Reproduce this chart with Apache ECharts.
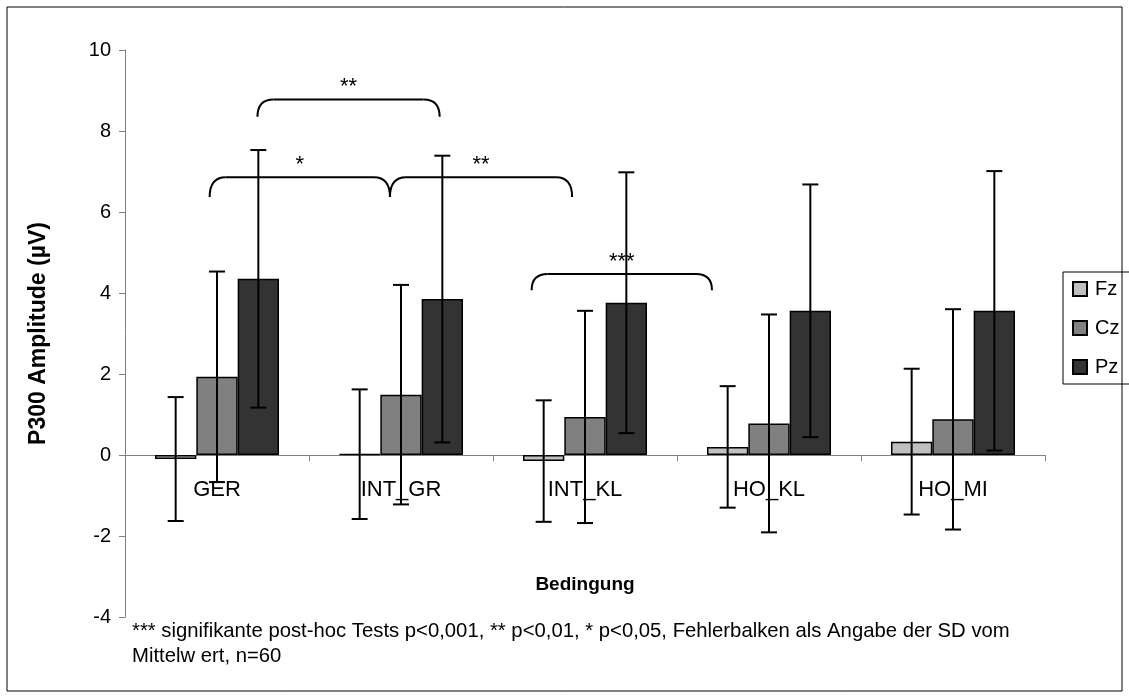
<!DOCTYPE html>
<html>
<head>
<meta charset="utf-8">
<script src="https://cdn.jsdelivr.net/npm/echarts@6/dist/echarts.min.js"></script>
<style>
  html, body { margin: 0; padding: 0; background: #fff; }
  #chart { width: 1129px; height: 698px; }
</style>
</head>
<body>
<div id="chart"></div>
<script>
// Conditions and mean P300 amplitudes (µV) per electrode
const categories = ['GER', 'INT_GR', 'INT_KL', 'HO_KL', 'HO_MI'];
const fz = [-0.10, 0.02, -0.15, 0.20, 0.33];
const cz = [1.93, 1.49, 0.94, 0.78, 0.88];
const pz = [4.35, 3.85, 3.76, 3.56, 3.56];

// Standard deviations (error bars)
const fzSD = [1.53, 1.60, 1.50, 1.50, 1.80];
const czSD = [2.60, 2.71, 2.62, 2.69, 2.72];
const pzSD = [3.18, 3.54, 3.22, 3.12, 3.45];

// Significance brackets: [from, to, line level, end level, label]
// (horizontal positions in category units, 0 = centre of the first category)
const brackets = [
  [0.22, 1.21, 8.78, 8.35, '**'],
  [-0.04, 0.94, 6.86, 6.37, '*'],
  [0.94, 1.93, 6.86, 6.37, '**'],
  [1.71, 2.69, 4.47, 4.07, '***']
];

const yTicks = { min: -4, max: 10, interval: 2 };

const FONT = "'Liberation Sans', Arial, Helvetica, sans-serif";
const CATEGORY_GAP = 0.326;
const seriesNames = ['Fz', 'Cz', 'Pz'];
const colors = ['#c0c0c0', '#808080', '#333333'];
const means = [fz, cz, pz];
const sds = [fzSD, czSD, pzSD];

const GRID = { left: 125, right: 84, top: 50, bottom: 81 };
const CHART_H = 698;
// lift the category axis (line, ticks, labels) up to the zero level
const plotH = CHART_H - GRID.top - GRID.bottom;
const zeroLift = plotH * (0 - yTicks.min) / (yTicks.max - yTicks.min);

const chart = echarts.init(document.getElementById('chart'), null, { renderer: 'canvas' });

// error bar items: [category index, low, high, series index]
const errData = [];
means.forEach((arr, s) => {
  arr.forEach((m, i) => {
    errData.push([i, m - sds[s][i], m + sds[s][i], s]);
  });
});

function renderError(params, api) {
  const idx = api.value(0);
  const s = api.value(3);
  const band = api.size([1, 0])[0];
  const barW = band * (1 - CATEGORY_GAP) / 3;
  const off = (s - 1) * barW;
  const lo = api.coord([idx, api.value(1)]);
  const hi = api.coord([idx, api.value(2)]);
  const x = lo[0] + off;
  const cap = 8;
  const style = { stroke: '#000', lineWidth: 2 };
  return {
    type: 'group',
    children: [
      { type: 'line', shape: { x1: x, y1: hi[1], x2: x, y2: lo[1] }, style },
      { type: 'line', shape: { x1: x - cap, y1: hi[1], x2: x + cap, y2: hi[1] }, style },
      { type: 'line', shape: { x1: x - cap, y1: lo[1], x2: x + cap, y2: lo[1] }, style }
    ]
  };
}

function renderBracket(params, api) {
  const b = brackets[params.dataIndex];
  const band = api.size([1, 0])[0];
  const origin = api.coord([0, b[3]]);
  const lineY = api.coord([0, b[2]])[1];
  const endY = origin[1];
  const xa = origin[0] + b[0] * band;
  const xb = origin[0] + b[1] * band;
  const r = 16;
  const style = { stroke: '#000', lineWidth: 2, fill: null };
  const mid = (xa + xb) / 2;
  return {
    type: 'group',
    children: [
      { type: 'bezierCurve', shape: { x1: xa, y1: endY, cpx1: xa, cpy1: lineY, x2: xa + r, y2: lineY }, style },
      { type: 'line', shape: { x1: xa + r, y1: lineY, x2: xb - r, y2: lineY }, style },
      { type: 'bezierCurve', shape: { x1: xb - r, y1: lineY, cpx1: xb, cpy1: lineY, x2: xb, y2: endY }, style },
      { type: 'text', x: mid, y: lineY - 1, style: { text: b[4], font: '22px ' + FONT, fill: '#000', align: 'center', verticalAlign: 'bottom' } }
    ]
  };
}

const barSeries = seriesNames.map((name, s) => ({
  name,
  type: 'bar',
  data: means[s],
  barGap: '0%',
  barCategoryGap: (CATEGORY_GAP * 100) + '%',
  itemStyle: { color: colors[s], borderColor: '#000', borderWidth: 1.5 },
  emphasis: { disabled: true },
  z: 2
}));

const option = {
  animation: false,
  backgroundColor: '#fff',
  textStyle: { fontFamily: FONT },
  grid: Object.assign({ containLabel: false, outerBoundsMode: 'none' }, GRID),
  legend: {
    orient: 'vertical',
    left: 1063,
    top: 272,
    data: seriesNames,
    icon: 'rect',
    itemWidth: 14,
    itemHeight: 14,
    itemGap: 19,
    padding: [7, 14, 7, 9],
    borderColor: '#000',
    borderWidth: 1,
    textStyle: { fontSize: 20, color: '#000', fontFamily: FONT, padding: [0, 0, 0, 3] }
  },
  xAxis: {
    type: 'category',
    data: categories,
    position: 'bottom',
    offset: -zeroLift,
    axisLine: { onZero: false, lineStyle: { color: '#808080', width: 1 } },
    axisTick: { show: true, inside: false, length: 6, lineStyle: { color: '#808080' } },
    axisLabel: { fontSize: 22, color: '#000', margin: 24, fontFamily: FONT },
    splitLine: { show: false },
    z: 1
  },
  yAxis: {
    type: 'value',
    min: yTicks.min,
    max: yTicks.max,
    interval: yTicks.interval,
    axisLine: { show: true, lineStyle: { color: '#808080', width: 1 } },
    axisTick: { show: true, length: 6, lineStyle: { color: '#808080' } },
    axisLabel: { fontSize: 20, color: '#000', margin: 14, fontFamily: FONT },
    splitLine: { show: false },
    name: 'P300 Amplitude (µV)',
    nameLocation: 'middle',
    nameRotate: 90,
    nameGap: 75,
    nameTextStyle: { fontSize: 23, fontWeight: 'bold', color: '#000', fontFamily: FONT }
  },
  series: [
    ...barSeries,
    {
      name: 'SD',
      type: 'custom',
      renderItem: renderError,
      data: errData,
      z: 5,
      silent: true
    },
    {
      name: 'brackets',
      type: 'custom',
      renderItem: renderBracket,
      data: brackets.map(b => [0, b[2]]),
      z: 6,
      silent: true
    }
  ],
  graphic: [
    {
      type: 'rect',
      shape: { x: 7, y: 7, width: 1115, height: 684 },
      style: { stroke: '#000', lineWidth: 1, fill: null },
      silent: true,
      z: -1
    },
    {
      type: 'text',
      x: 585,
      y: 585,
      style: {
        text: 'Bedingung',
        font: 'bold 19px ' + FONT,
        fill: '#000',
        align: 'center',
        verticalAlign: 'middle'
      },
      silent: true
    },
    {
      type: 'text',
      x: 132,
      y: 619,
      style: {
        text: '*** signifikante post-hoc Tests p<0,001, ** p<0,01, * p<0,05, Fehlerbalken als Angabe der SD vom\nMittelw ert, n=60',
        font: '20.3px ' + FONT,
        lineHeight: 25,
        fill: '#000'
      },
      silent: true
    }
  ]
};

chart.setOption(option);
</script>
</body>
</html>
